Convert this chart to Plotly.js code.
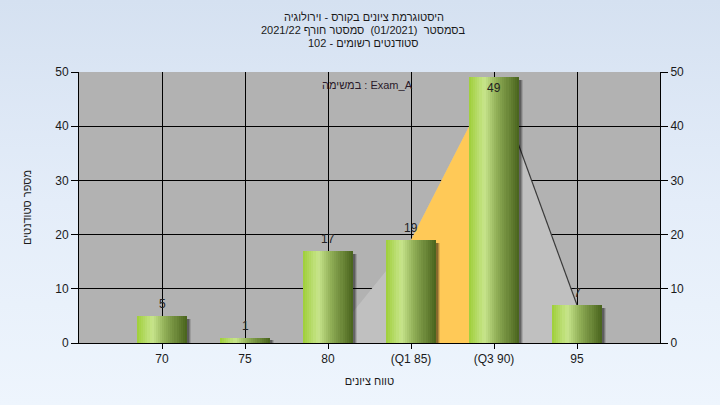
<!DOCTYPE html>
<html>
<head>
<meta charset="utf-8">
<script src="https://cdn.plot.ly/plotly-3.0.1.min.js"></script>
<style>
  html, body { margin: 0; padding: 0; }
  body { width: 720px; height: 405px; background: linear-gradient(to bottom, #d5e1f1 0%, #e4edf9 50%, #eef5fd 100%); }
  #chart { width: 720px; height: 405px; }
</style>
</head>
<body>
<div id="chart"></div>
<script>
// ---- data ----
const categories = ["70", "75", "80", "(Q1 85)", "(Q3 90)", "95"];
const counts = [5, 1, 17, 19, 49, 7];
const areaValues = [0, 0, 0, 19, 49, 7];       // background distribution area
const quartileCats = ["(Q1 85)", "(Q3 90)"];    // Q1..Q3 highlighted band
const quartileValues = [19, 49];
const tailCats = ["(Q3 90)", "95"];
const tailValues = [49, 7];
const yTicks = [0, 10, 20, 30, 40, 50];

const titleLines = [
  "היסטוגרמת ציונים בקורס - וירולוגיה",
  "בסמסטר  (01/2021)  סמסטר חורף 2021/22",
  "סטודנטים רשומים - 102"
];
const examLabel = "במשימה : Exam_A";
const xTitle = "טווח ציונים";
const yTitle = "מספר סטודנטים";

// ---- styling helpers ----
const FONT = "Liberation Sans, Arial, sans-serif";
const TXT = "#1a1a1a";
const BAR_W = 0.6;
const N_STRIPS = 24;
const PLOT_H = 271;
const stops = [
  [0.00, [158, 206, 56]],
  [0.30, [200, 229, 140]],
  [0.55, [146, 176, 88]],
  [1.00, [72, 98, 28]]
];
function gradColor(t) {
  for (let i = 0; i < stops.length - 1; i++) {
    const [t0, c0] = stops[i], [t1, c1] = stops[i + 1];
    if (t >= t0 && t <= t1) {
      const f = (t - t0) / (t1 - t0);
      const c = c0.map((v, k) => Math.round(v + (c1[k] - v) * f));
      return `rgb(${c[0]},${c[1]},${c[2]})`;
    }
  }
  const c = stops[stops.length - 1][1];
  return `rgb(${c[0]},${c[1]},${c[2]})`;
}

const traces = [];

// ---- base subplot (x, y): distribution area, drawn beneath the bars ----
traces.push({
  type: "scatter", mode: "lines", x: categories, y: areaValues, xaxis: "x", yaxis: "y",
  fill: "tozeroy", fillcolor: "#c0c0c0", line: { width: 0, color: "#c0c0c0" },
  hoverinfo: "skip", showlegend: false
});
traces.push({
  type: "scatter", mode: "lines", x: quartileCats, y: quartileValues, xaxis: "x", yaxis: "y",
  fill: "tozeroy", fillcolor: "#ffc957", line: { width: 0, color: "#ffc957" },
  hoverinfo: "skip", showlegend: false
});
traces.push({
  type: "scatter", mode: "lines", x: tailCats, y: tailValues, xaxis: "x", yaxis: "y",
  line: { width: 1.2, color: "#3a3a3a" }, hoverinfo: "skip", showlegend: false
});

// ---- overlay subplot (x2, y2): bars ----
[[0.055, "rgba(0,0,0,0.12)"], [0.035, "rgba(0,0,0,0.2)"], [0.02, "rgba(0,0,0,0.25)"]].forEach(([dx, col]) => {
  traces.push({
    type: "bar", x: categories, y: counts.map(v => Math.max(v - 0.5, 0.3)), xaxis: "x2", yaxis: "y2",
    width: BAR_W, offset: -BAR_W / 2 + dx, marker: { color: col, line: { width: 0 } },
    hoverinfo: "skip", showlegend: false
  });
});
for (let i = 0; i < N_STRIPS; i++) {
  const t = (i + 0.5) / N_STRIPS;
  traces.push({
    type: "bar", x: categories, y: counts, xaxis: "x2", yaxis: "y2",
    width: BAR_W / N_STRIPS + 0.003, offset: -BAR_W / 2 + i * BAR_W / N_STRIPS,
    marker: { color: gradColor(t), line: { width: 0 } },
    hoverinfo: i === 0 ? "x+y" : "skip", showlegend: false
  });
}

const yMax = 50;
const annotations = counts.map((v, i) => {
  const inside = v > yMax * 0.95;
  return {
    x: i, y: v, xref: "x2", yref: "y2", text: String(v), showarrow: false,
    yanchor: inside ? "top" : "bottom", yshift: inside ? -2 : 3,
    font: { family: FONT, size: 12, color: "#222" }
  };
});
annotations.push({
  x: 0.497, y: 1 - 13 / PLOT_H, xref: "paper", yref: "paper", text: examLabel, showarrow: false,
  xanchor: "center", yanchor: "middle", font: { family: FONT, size: 11, color: "#2a1a2a" }
});
const titleCenters = [17, 30, 43]; // px from top of page
titleLines.forEach((line, k) => {
  annotations.push({
    x: 0.4905, xref: "paper", y: 1 + (72 - titleCenters[k]) / PLOT_H, yref: "paper",
    text: line, showarrow: false, xanchor: "center", yanchor: "middle",
    font: { family: FONT, size: 11, color: TXT }
  });
});

const axisCommon = {
  fixedrange: true, zeroline: false,
  tickfont: { family: FONT, size: 12, color: TXT }
};

const layout = {
  width: 720, height: 405,
  paper_bgcolor: "rgba(0,0,0,0)", plot_bgcolor: "#b2b2b2",
  margin: { l: 79, r: 60, t: 72, b: 62 },
  barmode: "overlay", bargap: 0,
  font: { family: FONT, size: 12, color: TXT },
  title: { text: "" },
  xaxis: Object.assign({}, axisCommon, {
    type: "category", range: [-1, 6],
    showgrid: true, gridcolor: "#000", gridwidth: 1,
    showline: true, linecolor: "#000", linewidth: 1,
    ticks: "outside", ticklen: 5, tickcolor: "#000",
    title: { text: xTitle, font: { family: FONT, size: 11, color: TXT }, standoff: 11 }
  }),
  xaxis2: Object.assign({}, axisCommon, {
    type: "category", range: [-1, 6], overlaying: "x", matches: "x",
    visible: false, showgrid: false
  }),
  yaxis: Object.assign({}, axisCommon, {
    range: [0, 50], tickvals: yTicks,
    showgrid: true, gridcolor: "#000", gridwidth: 1,
    showline: true, linecolor: "#000", linewidth: 1,
    ticks: "outside", ticklen: 7, tickcolor: "#000",
    title: { text: yTitle, font: { family: FONT, size: 11, color: TXT }, standoff: 21 }
  }),
  yaxis2: Object.assign({}, axisCommon, {
    overlaying: "y", side: "right", range: [0, 50], tickvals: yTicks,
    showgrid: false, showline: true, linecolor: "#000", linewidth: 1,
    ticks: "outside", ticklen: 7, tickcolor: "#000"
  }),
  annotations: annotations,
  showlegend: false
};

Plotly.newPlot("chart", traces, layout, { displayModeBar: false, staticPlot: true });
</script>
</body>
</html>
